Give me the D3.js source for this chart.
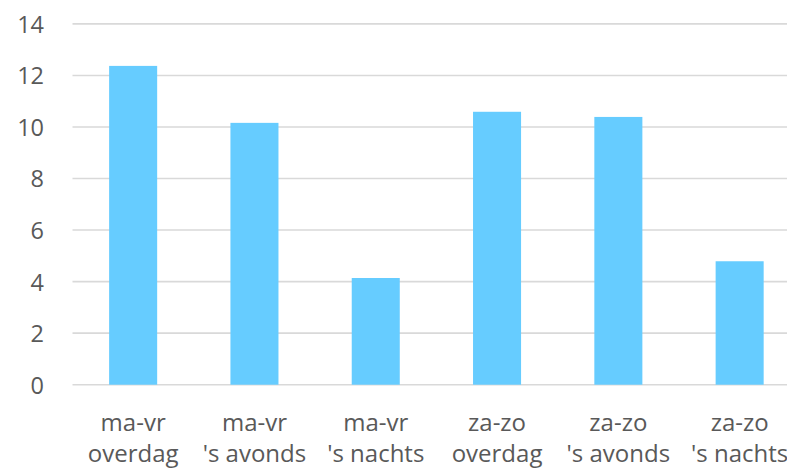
<!DOCTYPE html>
<html>
<head>
<meta charset="utf-8">
<script src="https://cdn.jsdelivr.net/npm/d3@7"></script>
<style>
  html, body { margin: 0; padding: 0; background: #fff; }
  svg { display: block; }
  text { font-family: "Open Sans", sans-serif; fill: #595959; }
</style>
</head>
<body>
<svg id="chart" width="787" height="469"></svg>
<script>
const categories = [
  ["ma-vr", "overdag"],
  ["ma-vr", "'s avonds"],
  ["ma-vr", "'s nachts"],
  ["za-zo", "overdag"],
  ["za-zo", "'s avonds"],
  ["za-zo", "'s nachts"]
];
const values = [12.37, 10.16, 4.14, 10.59, 10.39, 4.79];
const yTicks = [0, 2, 4, 6, 8, 10, 12, 14];

(function () {
const svg = d3.select("#chart");
const plotLeft = 72.5, plotRight = 800.3, plotTop = 23.9, plotBottom = 384.7;

const x = d3.scaleBand()
  .domain(categories.map((d, i) => i))
  .range([plotLeft, plotRight])
  .paddingInner(0.604)
  .paddingOuter(0.302);

const y = d3.scaleLinear().domain([0, 14]).range([plotBottom, plotTop]);

// gridlines
svg.append("g")
  .selectAll("line")
  .data(yTicks)
  .join("line")
  .attr("x1", plotLeft)
  .attr("x2", 787)
  .attr("y1", d => y(d))
  .attr("y2", d => y(d))
  .attr("stroke", "#d9d9d9")
  .attr("stroke-width", 1.6);

// y labels
const yAxis = d3.axisLeft(y).tickValues(yTicks).tickSize(0).tickPadding(0);
const gy = svg.append("g").attr("transform", "translate(44,0)").call(yAxis);
gy.select(".domain").remove();
gy.selectAll("text")
  .attr("font-size", 23.5)
  .attr("font-family", "Open Sans, sans-serif")
  .attr("fill", "#595959")
  .attr("dy", "0.36em");

// bars
svg.append("g")
  .selectAll("rect")
  .data(values)
  .join("rect")
  .attr("x", (d, i) => x(i))
  .attr("width", x.bandwidth())
  .attr("y", d => y(d))
  .attr("height", d => y(0) - y(d))
  .attr("fill", "#66ccff");

// x labels
const xl = svg.append("g")
  .selectAll("text")
  .data(categories)
  .join("text")
  .attr("x", (d, i) => x(i) + x.bandwidth() / 2)
  .attr("y", 431)
  .attr("text-anchor", "middle")
  .attr("font-size", 24);
xl.append("tspan").attr("x", (d, i) => x(i) + x.bandwidth() / 2).text(d => d[0]);
xl.append("tspan").attr("x", (d, i) => x(i) + x.bandwidth() / 2).attr("dy", 30.7).text(d => d[1]);
})();
</script>
</body>
</html>
